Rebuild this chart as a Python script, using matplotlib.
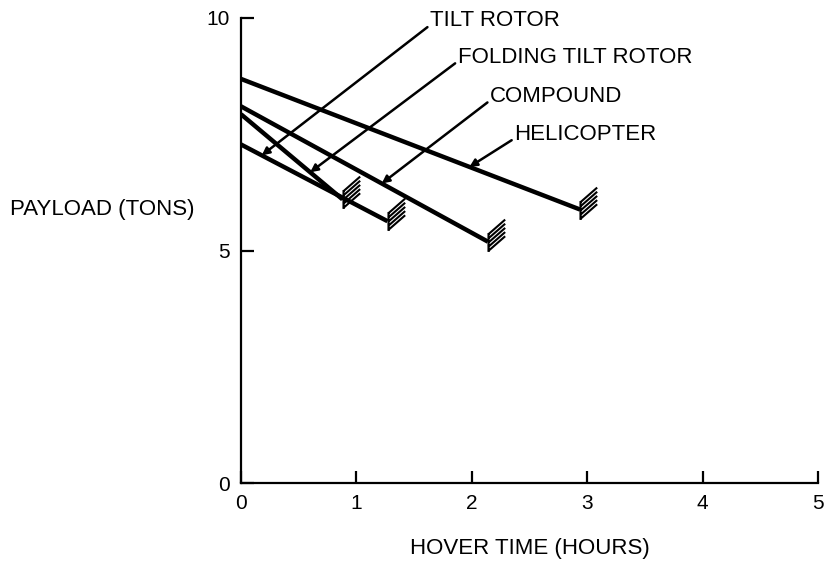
import matplotlib
matplotlib.use("Agg")
import matplotlib.pyplot as plt
from matplotlib.path import Path
import numpy as np

plt.rcParams['font.family'] = ['Liberation Sans', 'DejaVu Sans']

# payload vs hover time, start and end of each line
aircraft = ["TILT ROTOR", "FOLDING TILT ROTOR", "COMPOUND", "HELICOPTER"]
hover_hours = [[0.0, 1.27], [0.0, 0.88], [0.0, 2.14], [0.0, 2.94]]
payload_tons = [[7.28, 5.63], [7.93, 6.10], [8.10, 5.19], [8.69, 5.88]]

# where each label's pointer touches its line
pointer_hours = [0.18, 0.60, 1.22, 1.98]

x_ticks = [0, 1, 2, 3, 4, 5]
y_ticks = [0, 5, 10]


def hatch_marker():
    """Short parallel strokes drawn at the end of each line."""
    verts = []
    codes = []
    for y0 in [-8, -4, 0, 4, 8]:
        verts += [(0, y0), (16, y0 + 14)]
        codes += [Path.MOVETO, Path.LINETO]
    verts += [(0, -9), (0, 9)]
    codes += [Path.MOVETO, Path.LINETO]
    return Path(verts, codes)


fig = plt.figure(figsize=(8.27, 5.64), dpi=100)
ax = fig.add_axes([0.2914, 0.1436, 0.6976, 0.8245])

marker = hatch_marker()
for hx, py in zip(hover_hours, payload_tons):
    ax.plot(hx, py, color="black", lw=3.2, solid_capstyle="butt", zorder=3)
    ax.plot(hx[1], py[1], marker=marker, ms=33, mfc="none", mec="black",
            mew=1.5, zorder=3)

# label positions (left edge, vertical centre of the text)
label_pos = [(1.64, 9.94), (1.88, 9.16), (2.16, 8.32), (2.37, 7.50)]
for name, hx, py, ph, lp in zip(aircraft, hover_hours, payload_tons,
                                pointer_hours, label_pos):
    tip = np.interp(ph, hx, py)
    ax.annotate(name, xy=(ph, tip), xytext=lp, ha="left", va="center",
                fontsize=16,
                arrowprops=dict(arrowstyle="-|>", color="black", lw=1.8,
                                mutation_scale=11, shrinkA=0, shrinkB=0,
                                relpos=(0, 0.3)))

ax.set_xlim(0, 5)
ax.set_ylim(0, 10)
ax.set_xticks(x_ticks)
ax.set_yticks(y_ticks)
ax.spines["top"].set_visible(False)
ax.spines["right"].set_visible(False)
for s in ["left", "bottom"]:
    ax.spines[s].set_linewidth(1.6)
ax.tick_params(direction="in", length=9, width=1.6, labelsize=15, pad=8)

ax.set_xlabel("HOVER TIME (HOURS)", fontsize=16, labelpad=18)
fig.text(10 / 827, 1 - 210 / 564, "PAYLOAD (TONS)", fontsize=16,
         ha="left", va="center")

fig.savefig("out.png", dpi=100)
